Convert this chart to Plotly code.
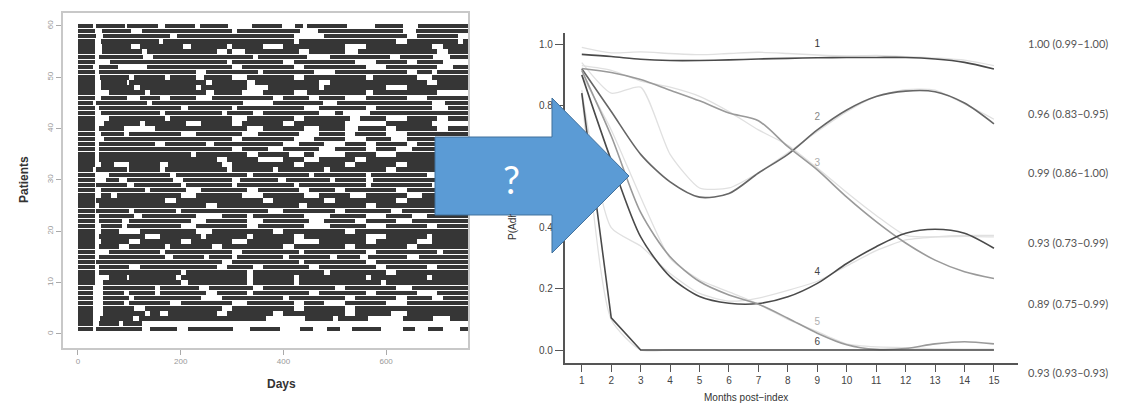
import plotly.graph_objects as go

W, H = 1131, 410

# ---------------- Left panel data: refill-gap timeline ----------------
FOLLOW_UP_END = 760  # last day drawn
patient_ids = list(range(60, 0, -1))
# gaps (days not covered) per patient
gaps = {
    60: [(30, 36), (91, 95), (156, 169), (228, 238), (293, 338), (397, 423), (439, 445), (523, 578), (633, 663)],
    59: [(34, 46), (104, 124), (300, 310), (432, 468), (633, 659)],
    58: [(36, 49), (180, 192), (420, 480), (640, 660), (740, 763)],
    57: [(33, 45), (158, 166), (420, 430), (620, 640), (740, 750)],
    56: [(33, 46), (104, 120), (205, 221), (290, 300), (360, 400), (520, 560), (690, 710)],
    55: [(33, 46), (125, 134), (270, 290), (300, 325), (430, 450), (520, 545), (700, 720)],
    54: [(33, 40), (127, 147), (340, 350), (445, 490), (607, 627), (692, 724)],
    53: [(33, 62), (290, 300), (400, 420), (540, 580), (640, 660), (710, 763)],
    52: [(30, 40), (78, 135), (300, 320), (420, 440), (560, 600), (700, 730)],
    51: [(33, 40), (230, 250), (350, 360), (460, 500), (640, 660), (690, 700)],
    50: [(33, 42), (100, 110), (170, 180), (230, 245), (300, 330), (420, 440), (560, 575), (660, 690)],
    49: [(33, 45), (95, 100), (250, 260), (330, 345), (470, 490), (680, 700)],
    48: [(33, 45), (110, 120), (230, 240), (330, 370), (470, 480), (600, 640)],
    47: [(33, 60), (130, 140), (250, 265), (320, 360), (420, 445), (560, 575), (700, 763)],
    46: [(33, 45), (95, 120), (160, 180), (230, 260), (380, 400), (450, 470), (520, 560), (640, 680)],
    45: [(30, 36), (134, 144), (322, 380), (478, 504), (690, 715)],
    44: [(33, 40), (200, 215), (300, 310), (440, 470), (560, 580), (690, 720)],
    43: [(33, 45), (160, 170), (280, 290), (340, 360), (470, 500), (516, 568)],
    42: [(33, 60), (170, 180), (300, 330), (420, 440), (530, 550), (600, 640), (700, 720)],
    41: [(33, 50), (120, 130), (210, 240), (300, 320), (400, 420), (520, 600), (690, 763)],
    40: [(33, 40), (90, 150), (330, 360), (440, 470), (520, 545), (600, 620), (700, 720)],
    39: [(33, 45), (90, 100), (200, 230), (320, 350), (430, 470), (520, 540), (600, 640)],
    38: [(33, 50), (300, 320), (420, 460), (520, 560), (610, 640)],
    37: [(33, 40), (150, 170), (250, 265), (400, 430), (480, 520), (560, 580), (640, 660)],
    36: [(33, 40), (300, 320), (370, 400), (470, 500), (560, 580), (620, 650)],
    35: [(33, 40), (220, 230), (330, 350), (410, 440), (460, 520), (580, 620)],
    34: [(33, 40), (270, 290), (350, 400), (440, 470), (540, 560)],
    33: [(33, 45), (70, 100), (160, 175), (280, 300), (420, 440), (520, 540), (620, 640)],
    32: [(30, 36), (95, 100), (160, 170), (290, 300), (380, 390), (480, 490), (600, 620)],
    31: [(33, 60), (180, 190), (330, 340), (450, 460), (560, 570), (680, 700)],
    30: [(33, 55), (80, 95), (185, 205), (300, 315), (390, 405), (490, 500), (560, 575)],
    29: [(33, 36), (95, 110), (200, 210), (300, 310), (420, 430), (560, 570), (690, 700)],
    28: [(33, 45), (130, 140), (210, 240), (330, 350), (430, 450), (500, 520), (620, 640)],
    27: [(33, 45), (65, 75), (200, 230), (320, 360), (440, 470), (530, 560), (640, 670)],
    26: [(33, 36), (170, 190), (360, 380), (480, 500), (620, 640)],
    25: [(33, 40), (250, 270), (430, 445), (560, 580)],
    24: [(33, 36), (100, 110), (190, 200), (370, 400), (500, 520), (610, 630)],
    23: [(33, 40), (110, 125), (230, 280), (330, 340), (440, 490), (560, 600), (650, 680)],
    22: [(33, 40), (85, 100), (220, 250), (330, 360), (450, 480), (540, 560), (620, 650)],
    21: [(33, 45), (85, 95), (200, 230), (330, 350), (440, 490), (560, 600), (680, 700)],
    20: [(33, 45), (80, 120), (230, 260), (380, 400), (520, 540)],
    19: [(33, 40), (130, 160), (240, 250), (330, 340), (420, 440), (560, 600), (680, 690)],
    18: [(33, 45), (100, 120), (200, 220), (300, 330), (420, 470), (560, 580), (660, 690)],
    17: [(33, 40), (80, 100), (170, 180), (260, 280), (400, 420), (520, 540), (640, 660)],
    16: [(33, 60), (160, 170), (300, 320), (430, 440), (560, 580), (700, 710)],
    15: [(33, 40), (170, 185), (245, 255), (300, 310), (400, 410), (490, 505), (550, 565), (640, 665)],
    14: [(33, 36), (280, 300), (430, 440), (560, 580)],
    13: [(33, 40), (100, 120), (270, 290), (340, 360), (450, 470), (580, 600), (680, 700)],
    12: [(33, 40), (200, 210), (330, 340), (480, 490), (600, 620)],
    11: [(33, 60), (95, 100), (190, 200), (330, 340), (420, 430), (560, 570), (680, 690)],
    10: [(33, 48), (200, 215), (330, 340), (420, 430), (590, 600)],
    9: [(30, 48), (150, 160), (235, 255), (340, 360), (500, 520), (620, 650)],
    8: [(30, 48), (90, 100), (150, 160), (250, 270), (330, 340), (450, 470), (560, 580), (660, 700)],
    7: [(30, 48), (100, 110), (240, 280), (400, 410), (520, 540), (620, 640), (690, 710)],
    6: [(30, 48), (90, 100), (180, 200), (300, 330), (420, 440), (480, 520), (600, 640)],
    5: [(30, 48), (110, 130), (280, 300), (420, 440), (520, 540)],
    4: [(30, 48), (130, 140), (160, 175), (270, 290), (380, 400), (520, 540), (610, 640)],
    3: [(30, 43), (108, 118), (367, 442), (497, 507), (565, 633), (692, 724)],
    2: [(30, 40), (80, 88), (124, 760)],
    1: [(30, 36), (124, 140), (192, 215), (302, 335), (393, 432), (458, 484), (510, 533), (591, 633), (656, 682), (711, 744)],
}
days_ticks = [0, 200, 400, 600]
patient_ticks = [0, 10, 20, 30, 40, 50, 60]

# ---------------- Right panel data: trajectory groups ----------------
months = list(range(1, 16))
traj_1 = [0.967, 0.960, 0.951, 0.947, 0.947, 0.949, 0.952, 0.954, 0.956, 0.957, 0.957, 0.957, 0.952, 0.941, 0.919]
traj_2 = [0.920, 0.780, 0.640, 0.550, 0.500, 0.512, 0.579, 0.640, 0.720, 0.785, 0.829, 0.847, 0.845, 0.808, 0.740]
traj_3 = [0.921, 0.908, 0.885, 0.850, 0.815, 0.775, 0.750, 0.665, 0.589, 0.500, 0.420, 0.350, 0.294, 0.256, 0.234]
traj_4 = [0.900, 0.620, 0.370, 0.240, 0.175, 0.153, 0.152, 0.174, 0.218, 0.283, 0.338, 0.382, 0.395, 0.382, 0.333]
traj_5 = [0.915, 0.700, 0.450, 0.305, 0.224, 0.180, 0.150, 0.104, 0.055, 0.017, 0.002, 0.005, 0.020, 0.027, 0.020]
traj_6 = [0.840, 0.105, 0.000, 0.000, 0.000, 0.000, 0.000, 0.000, 0.000, 0.000, 0.000, 0.000, 0.000, 0.000, 0.000]
obs_1 = [0.990, 0.972, 0.975, 0.970, 0.966, 0.970, 0.974, 0.970, 0.965, 0.962, 0.964, 0.960, 0.955, 0.948, 0.930]
obs_2 = [0.940, 0.840, 0.860, 0.640, 0.530, 0.530, 0.580, 0.645, 0.715, 0.780, 0.830, 0.852, 0.850, 0.805, 0.755]
obs_3 = [0.930, 0.915, 0.880, 0.860, 0.830, 0.780, 0.720, 0.670, 0.595, 0.515, 0.440, 0.375, 0.370, 0.372, 0.370]
obs_4 = [0.850, 0.400, 0.340, 0.250, 0.185, 0.160, 0.170, 0.195, 0.225, 0.275, 0.325, 0.360, 0.370, 0.375, 0.375]
obs_5 = [0.900, 0.720, 0.500, 0.300, 0.230, 0.190, 0.150, 0.100, 0.060, 0.020, 0.010, 0.008, 0.004, 0.003, 0.003]
obs_6 = [0.840, 0.100, 0.000, 0.000, 0.000, 0.000, 0.000, 0.000, 0.000, 0.000, 0.000, 0.000, 0.000, 0.000, 0.000]
group_labels = ["1", "2", "3", "4", "5", "6"]
group_label_values = [1.0, 0.76, 0.61, 0.255, 0.09, 0.025]
group_line_colors = ["#4a4a4a", "#666666", "#9a9a9a", "#4a4a4a", "#9a9a9a", "#4a4a4a"]
group_label_colors = ["#333333", "#888888", "#aaaaaa", "#444444", "#b0b0b0", "#444444"]
group_stats = ["1.00 (0.99–1.00)", "0.96 (0.83–0.95)", "0.99 (0.86–1.00)",
               "0.93 (0.73–0.99)", "0.89 (0.75–0.99)", "0.93 (0.93–0.93)"]
stat_y_px = [35, 105, 173, 242, 312, 381]


def covered(gap_list, end):
    segs, start = [], 0
    for a, b in sorted(gap_list):
        if a > start:
            segs.append((start, min(a, end)))
        start = max(start, b)
    if start < end:
        segs.append((start, end))
    return segs


ys, bases, lens = [], [], []
for pid in patient_ids:
    for a, b in covered(gaps[pid], FOLLOW_UP_END):
        ys.append(pid)
        bases.append(a)
        lens.append(b - a)

fig = go.Figure()
fig.add_trace(go.Bar(orientation="h", y=ys, x=lens, base=bases, width=0.87,
                     marker=dict(color="#363636", line=dict(width=0)),
                     xaxis="x", yaxis="y", showlegend=False))

obs = [obs_1, obs_2, obs_3, obs_4, obs_5, obs_6]
traj = [traj_1, traj_2, traj_3, traj_4, traj_5, traj_6]
for o in obs:
    fig.add_trace(go.Scatter(x=months, y=o, mode="lines", line=dict(color="#e0e0e0", width=1.3, shape="spline", smoothing=0.6),
                             xaxis="x2", yaxis="y2", showlegend=False))
for i, t in enumerate(traj):
    shape = "linear" if i == 5 else "spline"
    fig.add_trace(go.Scatter(x=months, y=t, mode="lines",
                             line=dict(color=group_line_colors[i], width=1.6, shape=shape, smoothing=0.8),
                             xaxis="x2", yaxis="y2", showlegend=False))
# group labels at month 9
fig.add_trace(go.Scatter(x=[9] * 6, y=group_label_values, mode="text", text=group_labels,
                         textfont=dict(size=10, color=group_label_colors, family="Liberation Sans"),
                         xaxis="x2", yaxis="y2", showlegend=False))


def px_x(p):
    return p / W


def px_y(p):
    return 1 - p / H


annotations = []
# left panel titles
annotations.append(dict(text="<b>Patients</b>", x=px_x(15), y=px_y(180), xref="paper", yref="paper",
                        textangle=-90, showarrow=False, font=dict(size=12, color="#333", family="Liberation Sans")))
annotations.append(dict(text="<b>Days</b>", x=px_x(265), y=px_y(393), xref="paper", yref="paper",
                        showarrow=False, font=dict(size=12, color="#333", family="Liberation Sans")))
# right panel titles
annotations.append(dict(text="Months post−index", x=px_x(790), y=px_y(405), xref="paper", yref="paper",
                        showarrow=False, font=dict(size=10, color="#333", family="Liberation Sans")))
annotations.append(dict(text="P(Adherent)", x=px_x(512), y=px_y(213), xref="paper", yref="paper",
                        textangle=-90, showarrow=False, font=dict(size=10, color="#333", family="Liberation Sans")))
for s, yp in zip(group_stats, stat_y_px):
    annotations.append(dict(text=s, x=px_x(1026), y=px_y(yp), xref="paper", yref="paper", xanchor="left",
                            showarrow=False, font=dict(size=11, color="#555", family="Lato")))
# arrow body patch drawn over the axis title (annotations render above shapes)
annotations.append(dict(text=" ", x=px_x(436), y=px_y(138), xref="paper", yref="paper",
                        xanchor="left", yanchor="top", width=115, height=76, bgcolor="#5B9BD5",
                        borderwidth=0, borderpad=0, showarrow=False, font=dict(size=2)))
# question mark on the arrow
annotations.append(dict(text="?", x=px_x(511), y=px_y(179), xref="paper", yref="paper",
                        showarrow=False, font=dict(size=38, color="white", family="Lato")))

# block arrow (overlay graphic)
pts = [(435, 137), (552, 137), (552, 98), (629, 176), (552, 253), (552, 215), (435, 215)]
path = "M " + " L ".join(f"{px_x(x):.5f},{px_y(y):.5f}" for x, y in pts) + " Z"
shapes = [dict(type="path", path=path, xref="paper", yref="paper",
               fillcolor="#5B9BD5", line=dict(color="#41719C", width=1), layer="above")]

fig.update_layout(
    width=W, height=H, margin=dict(l=0, r=0, t=0, b=0),
    paper_bgcolor="white", plot_bgcolor="white", barmode="overlay", bargap=0,
    font=dict(family="Liberation Sans"),
    xaxis=dict(domain=[63 / W, 468 / W], range=[-29.2, 759.5], tickvals=days_ticks,
               ticks="outside", ticklen=5, tickcolor="#aaa", tickfont=dict(size=8, color="#999"),
               showline=True, mirror=True, linecolor="#c8c8c8", linewidth=1.5,
               showgrid=False, zeroline=False, anchor="y"),
    yaxis=dict(domain=[1 - 348 / H, 1 - 13 / H], range=[-2.73, 62.53], tickvals=patient_ticks,
               ticks="outside", ticklen=5, tickcolor="#aaa", tickangle=-90, tickfont=dict(size=8, color="#999"),
               showline=True, mirror=True, linecolor="#c8c8c8", linewidth=1.5,
               showgrid=False, zeroline=False, anchor="x"),
    xaxis2=dict(domain=[564.6 / W, 1017.5 / W], range=[0.416, 15.8], tickvals=months,
                ticks="outside", ticklen=8, tickcolor="#555", tickfont=dict(size=10, color="#444"),
                showline=True, linecolor="#555", linewidth=1.5, showgrid=False, zeroline=False, anchor="y2"),
    yaxis2=dict(domain=[1 - 362.7 / H, 1 - 33 / H], range=[-0.0415, 1.037],
                tickvals=[0, 0.2, 0.4, 0.6, 0.8, 1.0], ticktext=["0.0", "0.2", "0.4", "0.6", "0.8", "1.0"],
                ticks="outside", ticklen=8, tickcolor="#555", tickfont=dict(size=10, color="#444"),
                showline=True, linecolor="#555", linewidth=1.5, showgrid=False, zeroline=False, anchor="x2"),
    annotations=annotations, shapes=shapes,
)

fig.write_html("out.html")
